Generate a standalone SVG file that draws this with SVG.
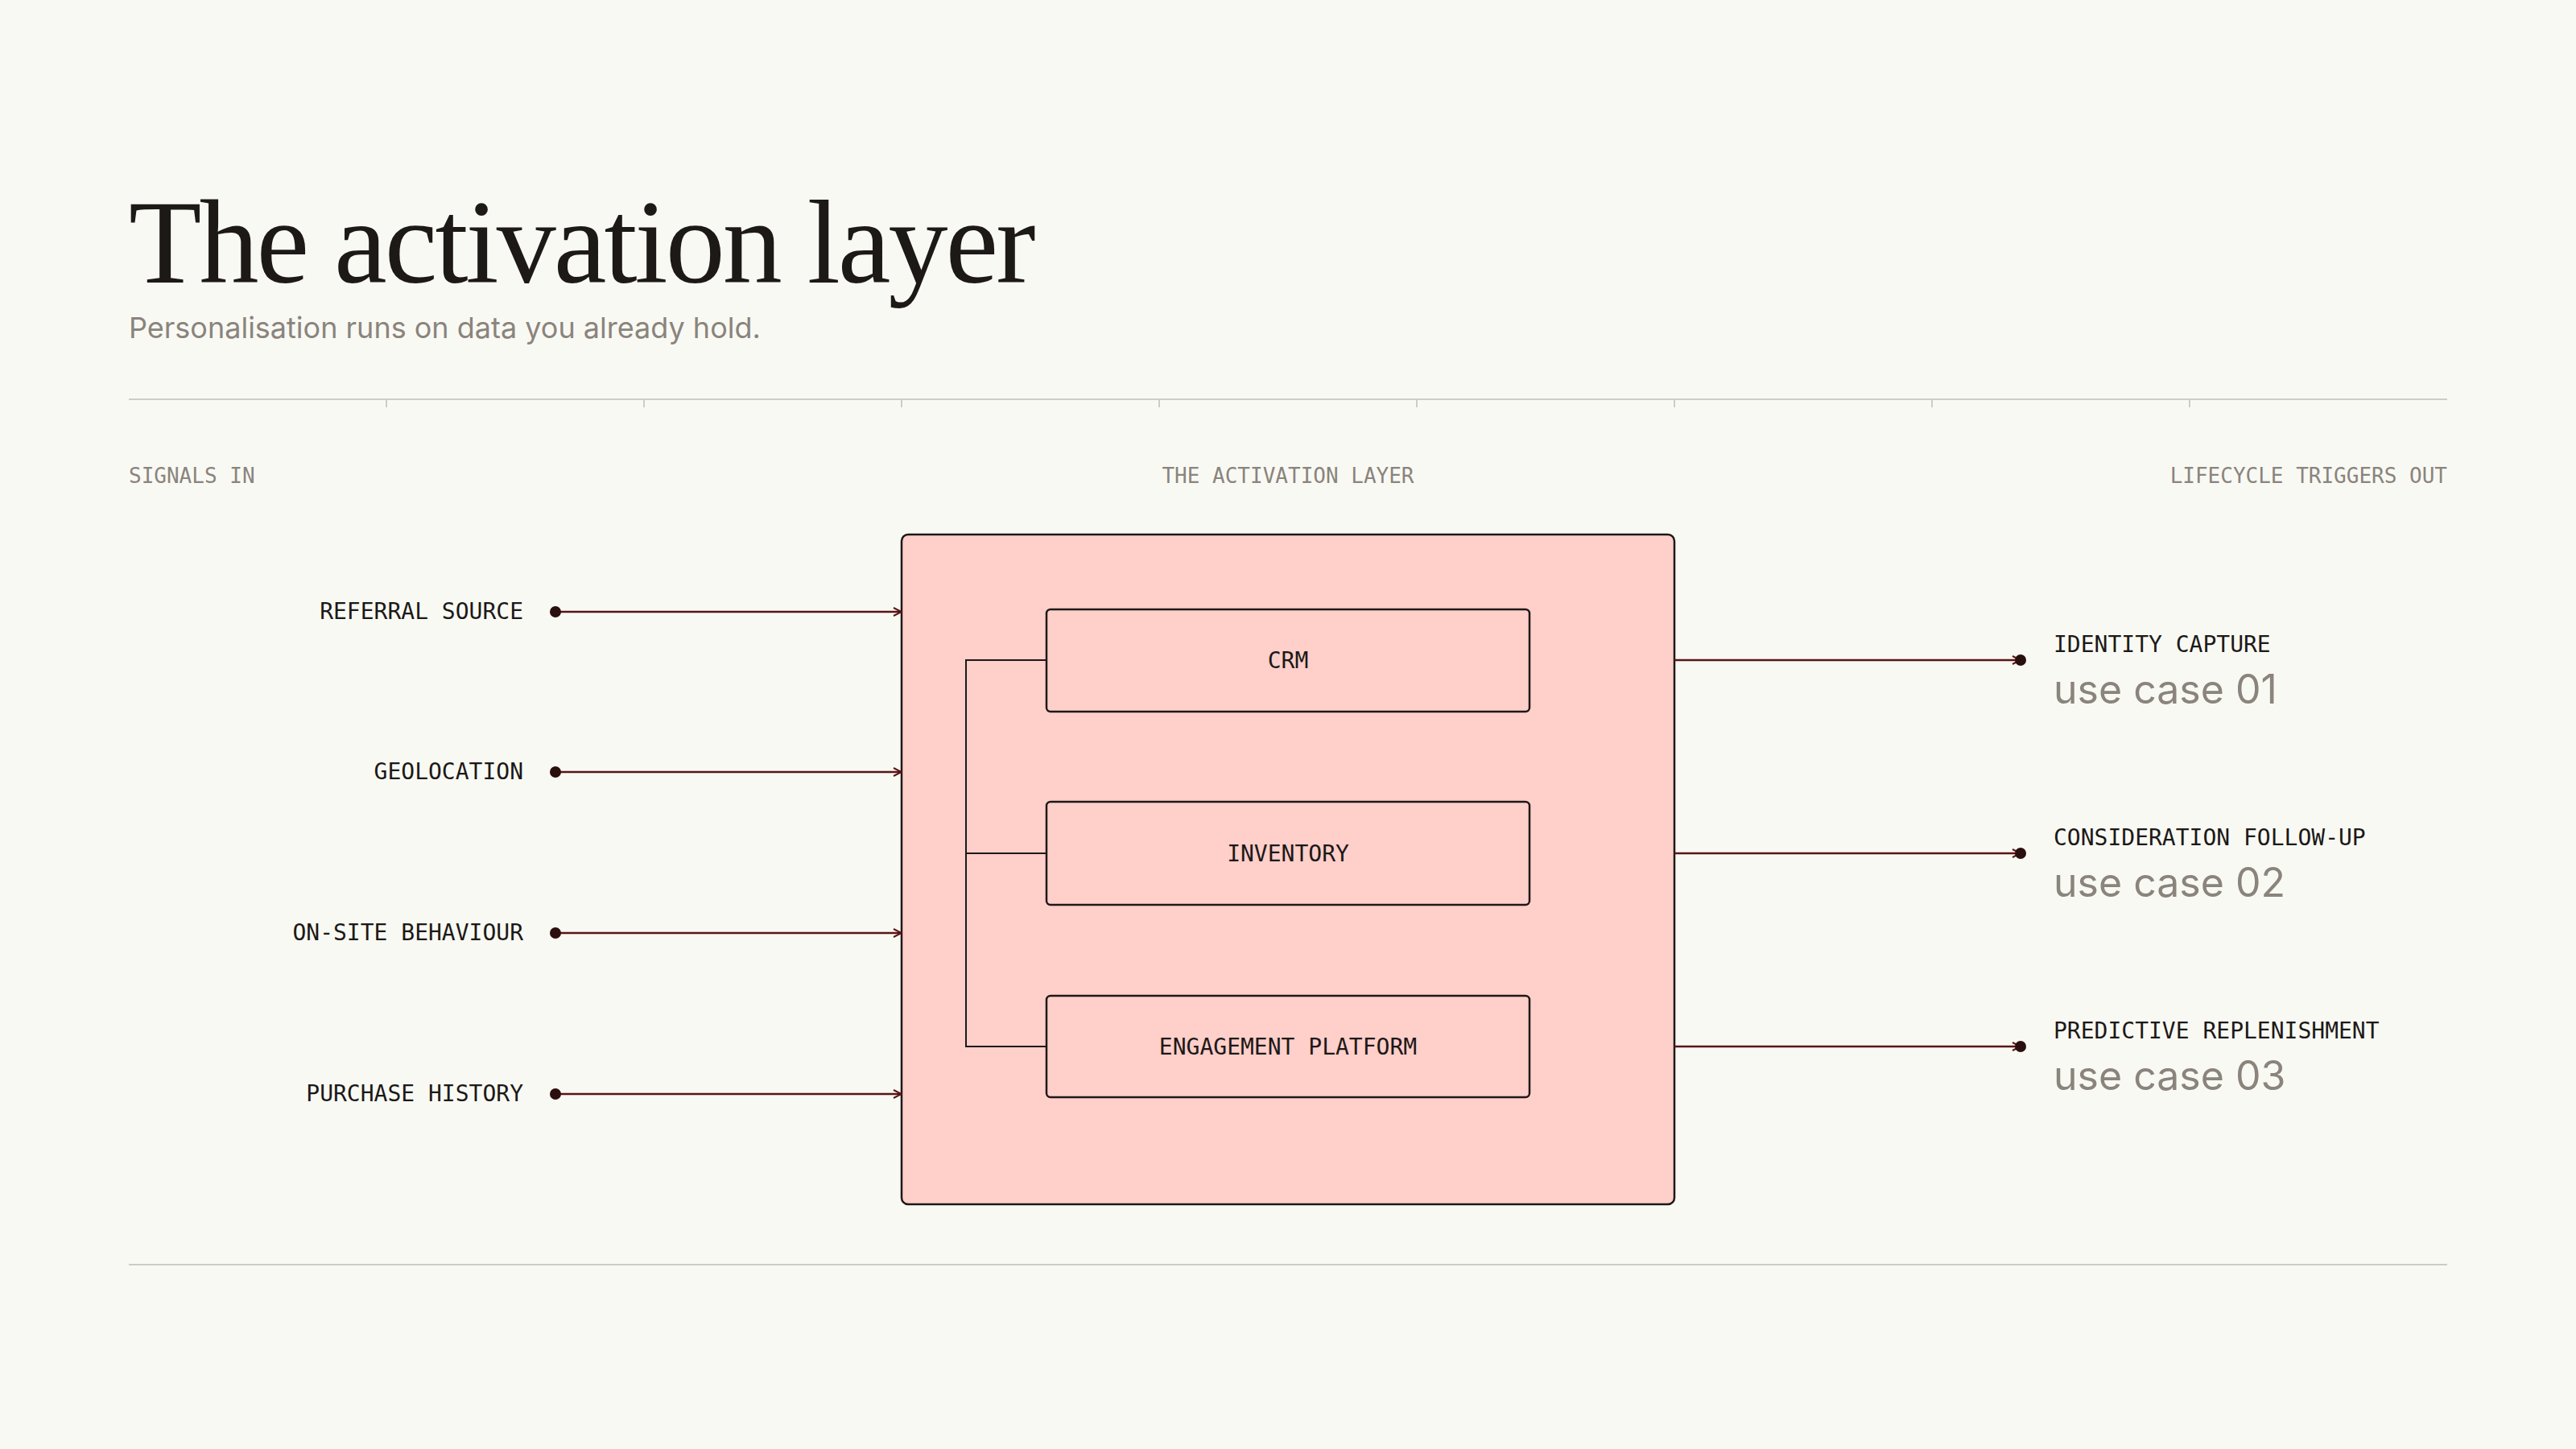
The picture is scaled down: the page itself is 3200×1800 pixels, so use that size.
<svg xmlns="http://www.w3.org/2000/svg" width="3200" height="1800" viewBox="0 0 3200 1800">
<defs>
<style>
.mono{font-family:"DejaVu Sans Mono","Liberation Mono",monospace;}
.lab{font-size:28px;fill:#1c1917;}
.sec{font-size:26px;fill:#8a847c;}
.uc{font-family:"Inter","Liberation Sans",sans-serif;font-size:50px;fill:#8a847c;}
.rule{stroke:#cfccc5;stroke-width:2;fill:none;}
.conn{stroke:#5a1414;stroke-width:2.5;fill:none;}
.box{fill:#ffcfca;stroke:#1c1917;stroke-width:2.5;}
</style>
<marker id="arr" viewBox="0 0 12 12" refX="11" refY="6" markerWidth="12" markerHeight="12" markerUnits="userSpaceOnUse" orient="auto"><path d="M1,1 L11,6 L1,11" fill="none" stroke="#5a1414" stroke-width="2"/></marker>
</defs>
<rect width="3200" height="1800" fill="#f9f9f4"/>
<text x="160" y="351" font-family="'Liberation Serif',serif" font-size="148" fill="#1c1917" letter-spacing="-3">The activation layer</text>
<text x="160" y="420" font-family="Inter,'Liberation Sans',sans-serif" font-size="36" fill="#8a847c">Personalisation runs on data you already hold.</text>
<g id="rules">
<path class="rule" d="M160,496H3040M480,496v10M800,496v10M1120,496v10M1440,496v10M1760,496v10M2080,496v10M2400,496v10M2720,496v10M160,1571H3040"/>
</g>
<text class="mono sec" x="160" y="600">SIGNALS IN</text>
<text class="mono sec" x="1600" y="600" text-anchor="middle">THE ACTIVATION LAYER</text>
<text class="mono sec" x="3040" y="600" text-anchor="end">LIFECYCLE TRIGGERS OUT</text>
<g id="layer"><rect class="box" x="1120" y="664" width="960" height="832" rx="8"/></g>
<g id="crm"><rect class="box" x="1300" y="757" width="600" height="127" rx="5"/><text class="mono lab" x="1600" y="830" text-anchor="middle">CRM</text></g>
<g id="inventory"><rect class="box" x="1300" y="996" width="600" height="128" rx="5"/><text class="mono lab" x="1600" y="1070" text-anchor="middle">INVENTORY</text></g>
<g id="engagement"><rect class="box" x="1300" y="1237" width="600" height="126" rx="5"/><text class="mono lab" x="1600" y="1310" text-anchor="middle">ENGAGEMENT PLATFORM</text></g>
<g id="connectors">
<path d="M1300,820H1200V1300H1300M1200,1060H1300" fill="none" stroke="#1c1917" stroke-width="2"/>
<path class="conn" marker-end="url(#arr)" d="M690,760H1120"/>
<path class="conn" marker-end="url(#arr)" d="M690,959H1120"/>
<path class="conn" marker-end="url(#arr)" d="M690,1159H1120"/>
<path class="conn" marker-end="url(#arr)" d="M690,1359H1120"/>
<path class="conn" marker-end="url(#arr)" d="M2080,820H2510"/>
<path class="conn" marker-end="url(#arr)" d="M2080,1060H2510"/>
<path class="conn" marker-end="url(#arr)" d="M2080,1300H2510"/>
<g fill="#2a0f0f"><circle cx="690" cy="760" r="7"/><circle cx="690" cy="959" r="7"/><circle cx="690" cy="1159" r="7"/><circle cx="690" cy="1359" r="7"/><circle cx="2510" cy="820" r="7"/><circle cx="2510" cy="1060" r="7"/><circle cx="2510" cy="1300" r="7"/></g>
</g>
<g id="in1"><text class="mono lab" x="650" y="769" text-anchor="end">REFERRAL SOURCE</text></g>
<g id="in2"><text class="mono lab" x="650" y="968" text-anchor="end">GEOLOCATION</text></g>
<g id="in3"><text class="mono lab" x="650" y="1168" text-anchor="end">ON-SITE BEHAVIOUR</text></g>
<g id="in4"><text class="mono lab" x="650" y="1368" text-anchor="end">PURCHASE HISTORY</text></g>
<g id="out1"><text class="mono lab" x="2551" y="810">IDENTITY CAPTURE</text><text class="uc" x="2551" y="874">use case 01</text></g>
<g id="out2"><text class="mono lab" x="2551" y="1050">CONSIDERATION FOLLOW-UP</text><text class="uc" x="2551" y="1114">use case 02</text></g>
<g id="out3"><text class="mono lab" x="2551" y="1290">PREDICTIVE REPLENISHMENT</text><text class="uc" x="2551" y="1354">use case 03</text></g>
</svg>
